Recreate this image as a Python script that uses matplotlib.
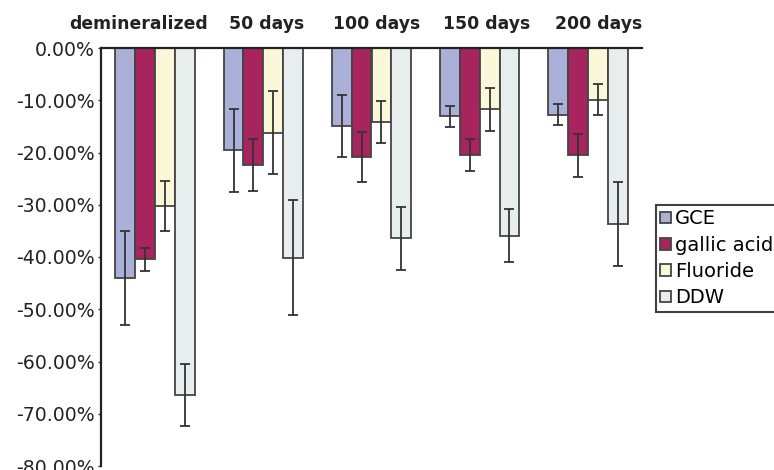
import matplotlib
matplotlib.use("Agg")
import matplotlib.pyplot as plt
import numpy as np

categories = ["demineralized", "50 days", "100 days", "150 days", "200 days"]
series_names = ["GCE", "gallic acid", "Fluoride", "DDW"]
gce = [-44.0, -19.6, -14.9, -13.1, -12.8]
gallic = [-40.4, -22.4, -20.8, -20.5, -20.5]
fluoride = [-30.3, -16.2, -14.2, -11.7, -9.9]
ddw = [-66.4, -40.1, -36.4, -35.9, -33.7]
gce_err = [9.0, 8.0, 6.0, 2.0, 2.0]
gallic_err = [2.2, 4.9, 4.8, 3.0, 4.1]
fluoride_err = [4.8, 7.9, 4.0, 4.1, 3.0]
ddw_err = [6.0, 11.0, 6.0, 5.0, 8.0]
yticks = [0, -10, -20, -30, -40, -50, -60, -70, -80]

values = [gce, gallic, fluoride, ddw]
errors = [gce_err, gallic_err, fluoride_err, ddw_err]
colors = ["#abb0d8", "#a8245f", "#fbf8da", "#e8eeee"]

W, H = 774, 470
fig = plt.figure(figsize=(W / 100, H / 100), dpi=100)
ax_left, ax_right, ax_top, ax_bottom = 101, 642, 48, 466
ax = fig.add_axes([ax_left / W, 1 - ax_bottom / H, (ax_right - ax_left) / W,
                   (ax_bottom - ax_top) / H])

x = np.arange(len(categories))
w = 0.183
for i, (vals, errs, c, name) in enumerate(zip(values, errors, colors, series_names)):
    ax.bar(x + (i - 1.5) * w, vals, width=w, color=c, edgecolor="#444444",
           linewidth=1.3, label=name, zorder=2)
    ax.errorbar(x + (i - 1.5) * w, vals, yerr=errs, fmt="none", ecolor="#333333",
                elinewidth=1.3, capsize=3.8, capthick=1.3, zorder=3)

ax.set_xlim(-0.5, len(categories) - 0.5)
ax.set_ylim(-80, 0)
ax.set_yticks(yticks)
ax.set_yticklabels(["%.2f%%" % v if v != 0 else "0.00%" for v in yticks],
                   fontsize=13.6, family="DejaVu Sans", color="#222222")
ax.tick_params(axis="y", length=2, width=1, pad=2.5, color="#333333")
ax.set_xticks([])

# group titles above the plot (placed as in the reference, slightly off-centre)
label_px = [138.5, 267, 377, 487, 599]
for lbl, px in zip(categories, label_px):
    fig.text(px / W, 1 - 24 / H, lbl, ha="center", va="center", fontsize=12.4,
             fontweight="bold", family="DejaVu Sans", color="#222222")

for s in ["right", "bottom"]:
    ax.spines[s].set_visible(False)
ax.spines["top"].set_linewidth(1.6)
ax.spines["top"].set_color("#222222")
ax.spines["left"].set_linewidth(1.6)
ax.spines["left"].set_color("#222222")

leg = fig.legend(loc="upper left", bbox_to_anchor=(656 / W, 1 - 205 / H),
                 frameon=True, fancybox=False, edgecolor="#111111",
                 prop={"family": "DejaVu Sans", "size": 14},
                 handlelength=0.55, handleheight=0.55, handletextpad=0.2,
                 labelspacing=0.38, borderpad=0.22, borderaxespad=0)
leg.get_frame().set_linewidth(1.5)

fig.savefig("out.png", dpi=100, facecolor="white")
